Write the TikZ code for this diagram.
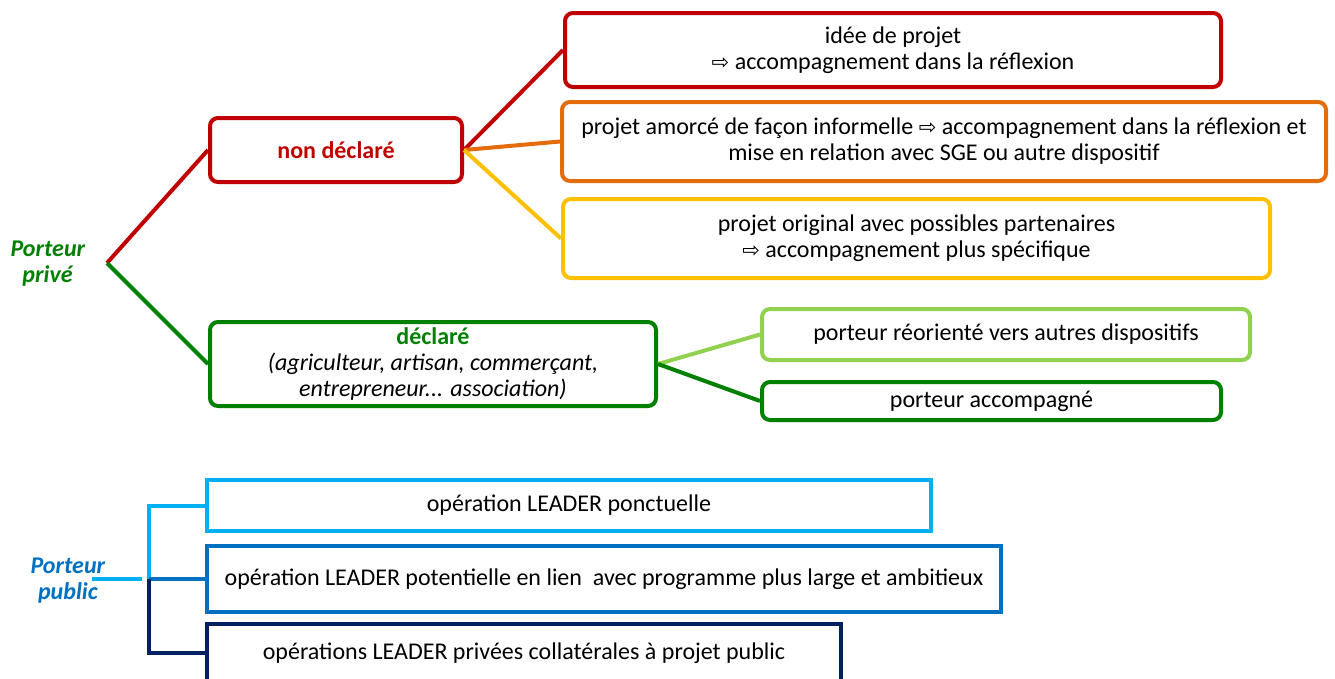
\documentclass[tikz,border=0pt]{standalone}
\usepackage{fontspec}
\setmainfont{Carlito}
\newfontfamily\flechefont{DejaVu Sans}
\usepackage{tikz}

\definecolor{rouge}{HTML}{C00000}
\definecolor{orange}{HTML}{E46C0A}
\definecolor{jaune}{HTML}{FFC000}
\definecolor{vertclair}{HTML}{92D050}
\definecolor{vert}{HTML}{008000}
\definecolor{bleuclair}{HTML}{00B0F0}
\definecolor{bleu}{HTML}{0070C0}
\definecolor{marine}{HTML}{002060}
\newcommand{\fleche}{{\flechefont\fontsize{21}{26}\selectfont ⇨}}

\begin{document}
\begin{tikzpicture}
[
x=1pt, y=-1pt,
every node/.style={font=\fontsize{24}{26}\selectfont},
boite/.style={draw, line width=4pt, rounded corners=8pt, align=center, inner sep=0pt},
carre/.style={draw, line width=4pt, align=center, inner sep=0pt},
lien/.style={line width=4pt}
]
\useasboundingbox (0,0) rectangle (1335,678);
\clip (0,0) rectangle (1335,678);

% porteur prive
\node[vert, align=center] (prive) at (48,264) {\textbf{\textit{Porteur}}\\\textbf{\textit{privé}}};
\coordinate (privej) at (107,263);

\node[boite, draw=rouge, minimum width=252, minimum height=64] (nondec) at (336,150) {\textbf{\color{rouge}non déclaré}};
\node[boite, draw=vert, minimum width=446, minimum height=84] (dec) at (433,364)
  {\textbf{\color{vert}déclaré}\\\textit{(agriculteur, artisan, commerçant,}\\\textit{entrepreneur... association)}};

\node[boite, draw=rouge, minimum width=656, minimum height=74] (idee) at (893,50)
  {idée de projet\\\fleche{} accompagnement dans la réflexion};
\node[boite, draw=orange, minimum width=764, minimum height=79] (amorce) at (944,141.5)
  {projet amorcé de façon informelle \fleche{} accompagnement dans la réflexion et\\mise en relation avec SGE ou autre dispositif};
\node[boite, draw=jaune, minimum width=707, minimum height=79] (original) at (916.5,238.5)
  {projet original avec possibles partenaires\\\fleche{} accompagnement plus spécifique};

\node[boite, draw=vertclair, minimum width=488, minimum height=51] (reoriente) at (1006,334.5)
  {porteur réorienté vers autres dispositifs};
\node[boite, draw=vert, minimum width=459, minimum height=38] (accomp) at (991.5,401)
  {porteur accompagné};

\draw[lien, rouge] (privej) -- (nondec.west);
\draw[lien, vert] (privej) -- (dec.west);
\draw[lien, rouge] (nondec.east) -- (idee.west);
\draw[lien, orange] (nondec.east) -- (amorce.west);
\draw[lien, jaune] (nondec.east) -- (original.west);
\draw[lien, vertclair] (dec.east) -- (reoriente.west);
\draw[lien, vert] (dec.east) -- (accomp.west);

% porteur public
\node[bleu, align=center] (public) at (68,581) {\textbf{\textit{Porteur}}\\\textbf{\textit{public}}};
\coordinate (publg) at (92,579);
\coordinate (publd) at (142,579);
\coordinate (publj) at (149,579);

\node[carre, draw=bleuclair, minimum width=724, minimum height=51] (ponct) at (569,505.5)
  {opération LEADER ponctuelle};
\node[carre, draw=bleu, minimum width=794, minimum height=66] (potent) at (604,579)
  {opération LEADER potentielle en lien~ avec programme plus large et ambitieux};
\node[carre, draw=marine, minimum width=634, minimum height=58] (collat) at (524,653)
  {opérations LEADER privées collatérales à projet public};

\draw[lien, bleuclair] (publg) -- (publd);
\draw[lien, bleuclair] (ponct.west) -| (publj);
\draw[lien, bleu] (publj) -- (potent.west);
\draw[lien, marine] (publj) |- (collat.west);
\end{tikzpicture}
\end{document}
